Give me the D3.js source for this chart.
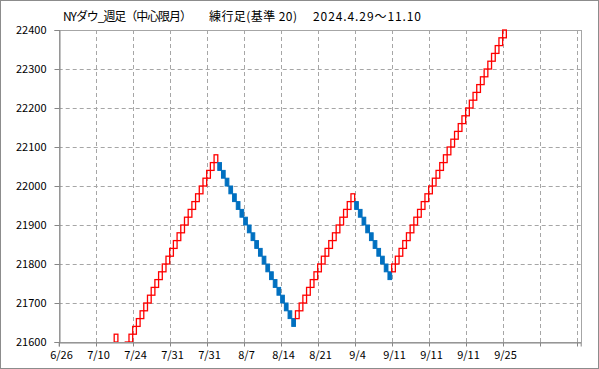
<!DOCTYPE html>
<html><head><meta charset="utf-8">
<script src="https://cdn.jsdelivr.net/npm/d3@7"></script>
<style>body{margin:0;background:#fff}svg{display:block}</style>
</head><body>
<svg id="c" width="599" height="369"></svg>
<script>
const titleParts = ["NYダウ_週足（中心限月）", "練行足(基準 20)", "2024.4.29～11.10"];
const brickSize = 20;
// brick position index (x slot) for each brick
const brickIndex = [15,16,17,18,
 19,20,21,22,23,24,25,26,27,28,29,30,31,32,33,34,35,36,37,38,39,40,41,42,
 43,44,45,46,47,48,49,50,51,52,53,54,55,56,57,58,59,60,61,62,63,
 64,65,66,67,68,69,70,71,72,73,74,75,76,77,78,79,
 80,81,82,83,84,85,86,87,88,89,
 90,91,92,93,94,95,96,97,98,99,100,101,102,103,104,105,106,107,108,109,110,111,112,113,114,115,116,117,118,119,120];
// lower edge of each brick
const brickLow = [21600,21560,21540,21580,
 21600,21620,21640,21660,21680,21700,21720,21740,21760,21780,21800,21820,21840,21860,21880,21900,21920,21940,21960,21980,22000,22020,22040,22060,
 22040,22020,22000,21980,21960,21940,21920,21900,21880,21860,21840,21820,21800,21780,21760,21740,21720,21700,21680,21660,21640,
 21660,21680,21700,21720,21740,21760,21780,21800,21820,21840,21860,21880,21900,21920,21940,21960,
 21940,21920,21900,21880,21860,21840,21820,21800,21780,21760,
 21780,21800,21820,21840,21860,21880,21900,21920,21940,21960,21980,22000,22020,22040,22060,22080,22100,22120,22140,22160,22180,22200,22220,22240,22260,22280,22300,22320,22340,22360,22380];
// direction: 1 up (red), -1 down (blue)
const brickDir = [1,-1,-1,1,
 1,1,1,1,1,1,1,1,1,1,1,1,1,1,1,1,1,1,1,1,1,1,1,1,
 -1,-1,-1,-1,-1,-1,-1,-1,-1,-1,-1,-1,-1,-1,-1,-1,-1,-1,-1,-1,-1,
 1,1,1,1,1,1,1,1,1,1,1,1,1,1,1,1,
 -1,-1,-1,-1,-1,-1,-1,-1,-1,-1,
 1,1,1,1,1,1,1,1,1,1,1,1,1,1,1,1,1,1,1,1,1,1,1,1,1,1,1,1,1,1,1];
const xTickIndex = [0,10,20,30,40,50,60,70,80,90,100,110,120,130,140];
const xTickLabels = ["6/26","7/10","7/24","7/31","7/31","8/7","8/14","8/21","9/4","9/11","9/11","9/11","9/25","",""];
const yTicks = [21600,21700,21800,21900,22000,22100,22200,22300,22400];

const svg = d3.select("#c");
const L = 58.7, R = 580.7, T = 30, B = 342;
const x = d3.scaleLinear().domain([0, 141.1]).range([L, R]);
const y = d3.scaleLinear().domain([21600, 22400]).range([B, T]);
const font = "'Noto Sans CJK JP','Noto Sans',sans-serif";
const gridC = "#a6a6a6", axisC = "#868686";

svg.append("rect").attr("x",0.5).attr("y",0.5).attr("width",598).attr("height",368)
  .attr("fill","#fff").attr("stroke","#8c8c8c");

// grid
svg.append("g").selectAll("line").data(yTicks.filter(v=>v>21600 && v<22400)).join("line")
  .attr("x1",L).attr("x2",R).attr("y1",d=>Math.round(y(d))+0.5).attr("y2",d=>Math.round(y(d))+0.5)
  .attr("stroke",gridC).attr("stroke-dasharray","4,3");
svg.append("g").selectAll("line").data(xTickIndex.filter(v=>v>0)).join("line")
  .attr("x1",d=>Math.round(x(d))+0.5).attr("x2",d=>Math.round(x(d))+0.5).attr("y1",T).attr("y2",B)
  .attr("stroke",gridC).attr("stroke-dasharray","4,3");

// frame
svg.append("rect").attr("x",Math.round(L)+0.5).attr("y",T+0.5).attr("width",Math.round(R)-Math.round(L)).attr("height",B-T)
  .attr("fill","none").attr("stroke",gridC);

// axes
const yAxis = d3.axisLeft(y).tickValues(yTicks).tickSize(5).tickFormat(d3.format("d"));
const gy = svg.append("g").attr("transform",`translate(${Math.round(L)+0.5},0)`).call(yAxis);
gy.selectAll("text").attr("font-family",font).attr("font-size","11px").attr("fill","#000").attr("x",-13);
gy.select(".domain").attr("stroke",axisC);
gy.selectAll(".tick line").attr("stroke",axisC);

const xAxis = d3.axisBottom(x).tickValues(xTickIndex).tickSize(4).tickFormat((d,i)=>xTickLabels[i]);
const gx = svg.append("g").attr("transform",`translate(0,${B+0.5})`).call(xAxis);
gx.selectAll(".tick").attr("transform",d=>`translate(${Math.round(x(d))+0.5},0)`);
gx.selectAll("text").attr("font-family",font).attr("font-size","11px").attr("fill","#000").attr("x",2).attr("y",9);
gx.select(".domain").attr("stroke",axisC);
gx.selectAll(".tick line").attr("stroke",axisC);

// bricks
svg.append("clipPath").attr("id","clip").append("rect").attr("x",L).attr("y",T-1).attr("width",R-L).attr("height",B-T+1);
const bricks = brickIndex.map((j,i)=>({j, low:brickLow[i], dir:brickDir[i]}));
svg.append("g").attr("clip-path","url(#clip)").selectAll("rect").data(bricks).join("rect")
  .attr("x",d=>x(d.j)).attr("width",d=>x(d.j+1)-x(d.j))
  .attr("y",d=>y(d.low+brickSize)).attr("height",d=>y(d.low)-y(d.low+brickSize))
  .attr("fill",d=>d.dir>0?"none":"#0070c0")
  .attr("stroke",d=>d.dir>0?"#ff0000":"#0070c0")
  .attr("stroke-width",d=>d.dir>0?1.3:1);

// title
const titleX = [63, 209, 313], titleW = [129, 88, 108];
svg.append("g").selectAll("text").data(titleParts).join("text")
  .attr("x",(d,i)=>titleX[i]).attr("y",21).attr("font-family",font).attr("font-size","12px")
  .attr("fill","#000").attr("textLength",(d,i)=>titleW[i]).attr("lengthAdjust","spacing").text(d=>d);
</script>
</body></html>
